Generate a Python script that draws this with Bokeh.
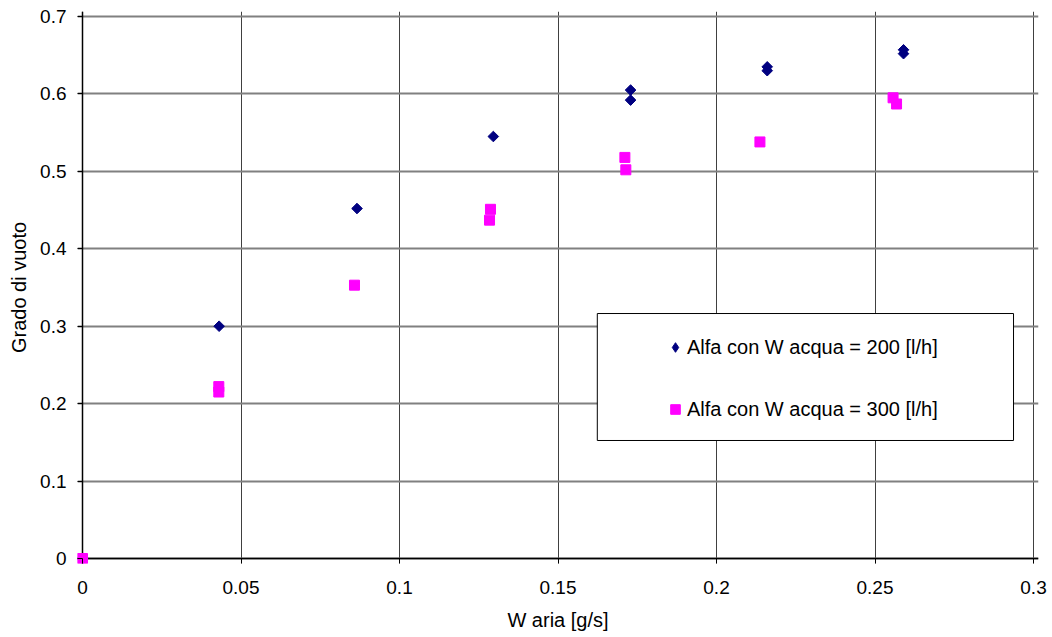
import numpy as np
from bokeh.plotting import figure
from bokeh.models import (ColumnDataSource, Range1d, FixedTicker, Legend, LegendItem,
                          BoxAnnotation, Grid)
from bokeh.embed import file_html
from bokeh.resources import INLINE

# ---- data ----
w_aria_200 = [0, 0.0431, 0.0866, 0.1296, 0.1729, 0.1729, 0.2160, 0.2160, 0.2590, 0.2590]
alfa_200 = [0, 0.300, 0.452, 0.545, 0.605, 0.592, 0.635, 0.630, 0.657, 0.652]

w_aria_300 = [0, 0.0430, 0.0430, 0.0858, 0.1287, 0.1284, 0.1711, 0.1714, 0.2137, 0.2557, 0.2568]
alfa_300 = [0, 0.222, 0.215, 0.353, 0.451, 0.437, 0.518, 0.502, 0.538, 0.595, 0.587]

x_ticks = [0, 0.05, 0.1, 0.15, 0.2, 0.25, 0.3]
x_tick_labels = ["0", "0.05", "0.1", "0.15", "0.2", "0.25", "0.3"]
y_ticks = [0, 0.1, 0.2, 0.3, 0.4, 0.5, 0.6, 0.7]
y_tick_labels = ["0", "0.1", "0.2", "0.3", "0.4", "0.5", "0.6", "0.7"]

label_200 = "Alfa con W acqua = 200 [l/h]"
label_300 = "Alfa con W acqua = 300 [l/h]"
x_title = "W aria [g/s]"
y_title = "Grado di vuoto"

FONT = "Liberation Sans"

X0, X1 = x_ticks[0], x_ticks[-1]
Y0, Y1 = y_ticks[0], y_ticks[-1]
PX_X = 5 * (X1 - X0) / 951   # ~5 px of slack around the axes, so markers at 0 are not clipped
PX_Y = 5 * (Y1 - Y0) / 542

p = figure(output_backend="svg", toolbar_location=None,
           frame_width=961, frame_height=552,
           min_border_left=77, min_border_top=11, min_border_right=14, min_border_bottom=74,
           x_range=Range1d(X0 - PX_X, X1 + PX_X), y_range=Range1d(Y0 - PX_Y, Y1 + PX_Y),
           background_fill_color="white", border_fill_color="white")
p.outline_line_color = None

for ax, ticks, labels in ((p.xaxis[0], x_ticks, x_tick_labels),
                          (p.yaxis[0], y_ticks, y_tick_labels)):
    ax.ticker = FixedTicker(ticks=ticks)
    ax.major_label_overrides = {float(t): l for t, l in zip(ticks, labels)}
    ax.axis_line_color = None
    ax.major_tick_in = 5      # tick marks reach from the frame edge to the zero line
    ax.major_tick_out = 0
    ax.minor_tick_line_color = None
    ax.major_tick_line_color = "black"
    ax.major_label_text_font = FONT
    ax.major_label_text_font_size = "19px"
    ax.major_label_text_color = "black"
    ax.axis_label_text_font = FONT
    ax.axis_label_text_font_style = "normal"
    ax.axis_label_text_color = "black"

p.xaxis.axis_label = x_title
p.yaxis.axis_label = y_title
p.xaxis.axis_label_text_font_size = "20px"
p.yaxis.axis_label_text_font_size = "20px"
p.xaxis.major_label_standoff = 17
p.xaxis.axis_label_standoff = 12
p.yaxis.major_label_standoff = 11
p.yaxis.axis_label_standoff = 7

p.xgrid.grid_line_color = "#404040"
p.xgrid.grid_line_width = 1
p.xgrid.bounds = (Y0, Y1)
p.ygrid.grid_line_color = "#808080"
p.ygrid.grid_line_width = 2
p.ygrid.bounds = (X0, X1)

# black axis lines at zero
p.add_layout(Grid(dimension=0, ticker=FixedTicker(ticks=[X0]), bounds=(Y0, Y1),
                  grid_line_color="black", grid_line_width=1.5))
p.add_layout(Grid(dimension=1, ticker=FixedTicker(ticks=[Y0]), bounds=(X0, X1),
                  grid_line_color="black", grid_line_width=1.5))

src200 = ColumnDataSource(dict(x=w_aria_200, y=alfa_200))
src300 = ColumnDataSource(dict(x=w_aria_300, y=alfa_300))

r200 = p.scatter("x", "y", source=src200, marker="square", angle=np.pi / 4, size=7.5,
                 fill_color="#000080", line_color="#000080")
r300 = p.scatter("x", "y", source=src300, marker="square", size=10,
                 fill_color="#FF00FF", line_color="#FF00FF")
# legend key for the diamonds (legend keys are never rotated); size 0 -> invisible on the plot
key200 = p.scatter("x", "y", source=src200, marker="diamond", size=0,
                   fill_color="#000080", line_color="#000080")

box = BoxAnnotation(left=0.1624, right=0.2937, bottom=0.1524, top=0.3164,
                    fill_color="white", fill_alpha=1.0, line_color="black", line_alpha=1.0,
                    line_width=1, level="glyph")
p.add_layout(box)

legend = Legend(items=[LegendItem(label=label_200, renderers=[key200]),
                       LegendItem(label=label_300, renderers=[r300])],
                location=(586, 142), padding=0, spacing=38, margin=0,
                glyph_width=24, glyph_height=24, label_height=24, label_standoff=0,
                label_text_font=FONT, label_text_font_size="20px", label_text_color="black",
                border_line_alpha=0, background_fill_alpha=0)
p.add_layout(legend, "center")

open("out.html", "w").write(file_html(p, INLINE))
